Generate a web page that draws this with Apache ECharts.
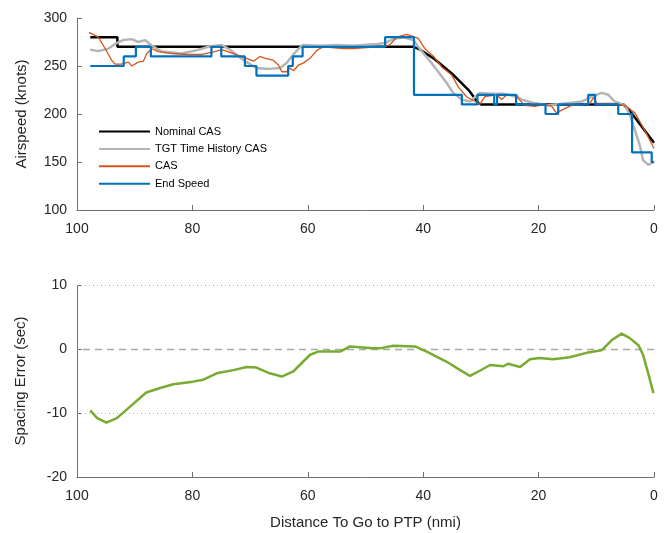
<!DOCTYPE html>
<html><head><meta charset="utf-8">
<script src="https://cdn.jsdelivr.net/npm/echarts@6/dist/echarts.min.js"></script>
<style>html,body{margin:0;padding:0;background:#fff}#c{width:667px;height:533px}</style>
</head><body><div id="c"></div>
<script>
const xTicks = [100, 80, 60, 40, 20, 0];
const seriesNames = ['Nominal CAS', 'TGT Time History CAS', 'CAS', 'End Speed'];
const nominalCAS = [[97.7,280],[93.0,280],[93.0,270],[41.7,270],[40.5,267],[38,257],[35,242],[32,224],[30.4,211],[30,210],[5.3,210],[3.9,201],[2,186],[0,170]];
const tgtCAS = [[97.7,267],[96.3,265.5],[94.6,268],[93.4,273],[92,277],[90.5,278],[89.4,275],[88.2,277],[87,271],[85.3,265],[83.5,264],[81.9,263],[79.5,266],[77.2,270],[75,272],[73.5,267],[72,260],[70.6,254],[68.9,248],[66.6,247],[64.8,248],[63.7,253],[62.8,260],[61.6,268],[60.8,272],[57.9,271],[55,272],[52.2,271],[48,273],[46.6,274],[45.2,278],[43.4,280],[41.7,277],[40.6,268],[38.8,255],[37.4,244],[35.9,232],[34.8,222],[33.3,215],[31.9,213],[30.2,222],[28.4,221],[26.1,221],[23.8,218],[22.9,215],[21.2,212],[18.3,209],[15.4,211],[12.5,213],[10.8,218],[9.1,222],[7.9,220],[6.8,213],[5.0,209],[4.2,199],[3.3,183],[2.4,166],[1.9,152],[1.0,147],[0,150]];
const cas = [[97.9,285],[96.3,280],[95.1,268],[94,256],[93.4,252],[92.3,252],[91.1,254],[90.5,250],[89.4,254],[88.5,255],[87.9,263],[87,268],[85.9,265],[83.6,263],[80.7,262],[78.4,262],[76.1,265],[74.9,267],[72.9,263],[70.6,258],[69.4,255],[68.3,260],[67.4,258],[66,256],[65.1,251],[64.5,244],[63.7,244],[63.1,248],[62.5,245],[61.6,251],[60.8,253],[59.6,258],[58.5,266],[57.3,270],[53.9,268],[52.1,268],[50.4,269],[48,270],[46.9,270],[45.8,272],[44.6,280],[42.9,283],[40.9,279],[39.7,268],[38.2,260],[36.8,249],[35.1,241],[33.9,228],[32.5,218],[31,213],[30.2,210],[29.3,218],[27.3,220],[26.4,215],[25.5,220],[23.8,220],[23.5,216],[22.4,209],[20.6,208],[18.9,210],[17.7,208],[16.9,201],[16,204],[14.3,209],[12,210],[11.1,211],[10.5,217],[9.9,211],[7.3,211],[5.0,209],[3.3,201],[1.6,183],[0,164]];
const endSpeed = [[97.7,250],[91.9,260],[89.8,270],[87.2,260],[76.7,270],[75.0,260],[70.9,250],[68.9,240],[63.4,250],[62.6,260],[60.9,270],[46.6,280],[41.6,220],[33.3,210],[30.6,220],[27.7,210],[27.2,220],[23.9,210],[18.8,200],[16.6,210],[11.4,220],[10.2,210],[6.2,200],[3.8,160],[0.4,150],[0,150]];
const spacingError = [[97.7,-9.6],[96.5,-10.8],[94.9,-11.5],[93.1,-10.8],[90.8,-9.0],[88,-6.8],[85.6,-6.1],[83.3,-5.5],[79.9,-5.1],[78.1,-4.8],[75.8,-3.8],[72.9,-3.3],[70.6,-2.8],[68.9,-2.9],[66.6,-3.8],[64.5,-4.3],[62.5,-3.5],[61.4,-2.5],[59.6,-0.9],[58.2,-0.4],[54.4,-0.4],[52.7,0.4],[48.7,0.1],[47.5,0.1],[45.2,0.5],[41.4,0.4],[39.4,-0.4],[35.9,-2.0],[33.6,-3.3],[31.9,-4.2],[30.2,-3.4],[28.4,-2.5],[26.1,-2.7],[25.3,-2.3],[23.2,-2.8],[21.5,-1.6],[19.8,-1.4],[17.5,-1.6],[14.6,-1.3],[11.7,-0.6],[9.1,-0.2],[7.3,1.4],[5.6,2.4],[4.2,1.7],[2.7,0.6],[1.9,-0.9],[1.0,-3.8],[0.1,-6.9]];
const dottedGridValues = [10, -10];
const zeroLineValue = 0;

const FONT = '"Liberation Sans", Arial, sans-serif';
const TXT = '#262626';
const AX = '#707070';
function xAxis(gi, withName) {
  return {
    type: 'value', gridIndex: gi, inverse: true, min: 0, max: 100, interval: 20,
    axisLine: { show: true, onZero: false, lineStyle: { color: AX, width: 1 } },
    axisTick: { show: true, inside: true, length: 5, lineStyle: { color: AX } },
    axisLabel: { color: TXT, fontSize: 14, fontFamily: FONT, margin: 12 },
    splitLine: { show: false },
    name: withName ? 'Distance To Go to PTP (nmi)' : '',
    nameLocation: 'middle', nameGap: 38,
    nameTextStyle: { color: TXT, fontSize: 15, fontFamily: FONT }
  };
}
function yAxis(gi, min, max, interval, name, gap) {
  return { type: 'value', gridIndex: gi, min: min, max: max, interval: interval, position: 'left',
    axisLine: { show: true, onZero: false, lineStyle: { color: AX } },
    axisTick: { show: true, inside: true, length: 5, lineStyle: { color: AX } },
    axisLabel: { color: TXT, fontSize: 14, fontFamily: FONT, margin: 10 },
    splitLine: { show: false },
    name: name, nameLocation: 'middle', nameGap: gap,
    nameTextStyle: { color: TXT, fontSize: 15, fontFamily: FONT } };
}
const markData = dottedGridValues.map(v => ({ yAxis: v, lineStyle: { type: [1, 3], color: '#b0b0b0', width: 1 } }))
  .concat([{ yAxis: zeroLineValue, lineStyle: { type: [7, 5], color: '#a8a8a8', width: 1.3 } }]);
const chart = echarts.init(document.getElementById('c'), null, { renderer: 'canvas' });
chart.setOption({
  animation: false,
  backgroundColor: '#fff',
  grid: [
    { left: 77, right: 13, top: 18, height: 192 },
    { left: 77, right: 13, top: 285, height: 192 }
  ],
  legend: {
    data: seriesNames, orient: 'vertical', left: 93, top: 121,
    itemWidth: 51, itemHeight: 11, itemGap: 6.4,
    itemStyle: { opacity: 0 },
    textStyle: { color: '#000', fontSize: 11, fontFamily: FONT },
    backgroundColor: 'transparent', borderWidth: 0
  },
  xAxis: [xAxis(0, false), xAxis(1, true)],
  yAxis: [
    yAxis(0, 100, 300, 50, 'Airspeed (knots)', 48),
    yAxis(1, -20, 10, 10, 'Spacing Error (sec)', 49)
  ],
  series: [
    { name: seriesNames[0], type: 'line', xAxisIndex: 0, yAxisIndex: 0, data: nominalCAS,
      symbol: 'none', lineStyle: { color: '#000000', width: 2.5 }, itemStyle: { color: '#000000' }, z: 2 },
    { name: seriesNames[1], type: 'line', xAxisIndex: 0, yAxisIndex: 0, data: tgtCAS,
      symbol: 'none', lineStyle: { color: '#b4b4b4', width: 2.5 }, itemStyle: { color: '#b4b4b4' }, z: 3 },
    { name: seriesNames[2], type: 'line', xAxisIndex: 0, yAxisIndex: 0, data: cas,
      symbol: 'none', lineStyle: { color: '#D95319', width: 1.3 }, itemStyle: { color: '#D95319' }, z: 4 },
    { name: seriesNames[3], type: 'line', step: 'end', xAxisIndex: 0, yAxisIndex: 0, data: endSpeed,
      symbol: 'none', lineStyle: { color: '#0072BD', width: 2.2 }, itemStyle: { color: '#0072BD' }, z: 5 },
    { name: 'Spacing Error', type: 'line', xAxisIndex: 1, yAxisIndex: 1, data: spacingError,
      symbol: 'none', lineStyle: { color: '#77AC30', width: 2.5 }, itemStyle: { color: '#77AC30' }, z: 5,
      markLine: { silent: true, symbol: 'none', label: { show: false }, z: 1, data: markData } }
  ]
});
</script></body></html>
